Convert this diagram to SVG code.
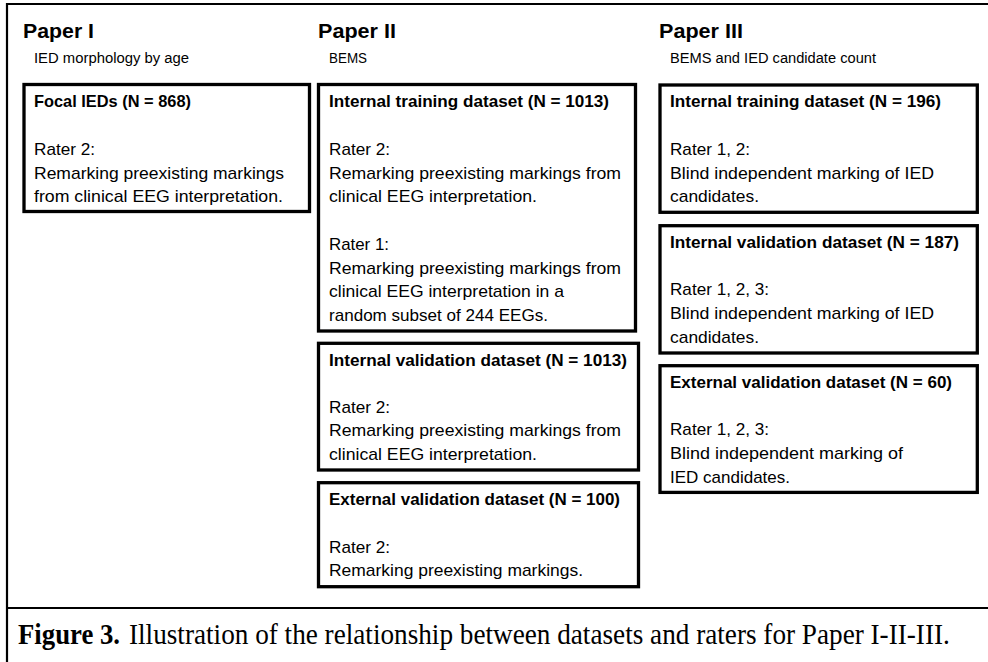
<svg xmlns="http://www.w3.org/2000/svg" width="988" height="662" viewBox="0 0 988 662">
  <style>
    .frame { stroke: #000; stroke-width: 2.2; fill: none; }
    .box { fill: #fff; stroke: #000; stroke-width: 3.3; }
    text { fill: #000; }
    .title { font-family: "Liberation Sans", Arial, sans-serif; font-weight: bold; font-size: 20px; }
    .sub { font-family: "Liberation Sans", Arial, sans-serif; font-size: 14px; }
    .head { font-family: "Liberation Sans", Arial, sans-serif; font-weight: bold; font-size: 16.5px; }
    .body { font-family: "Liberation Sans", Arial, sans-serif; font-size: 17px; }
    .cap { font-family: "Liberation Serif", "Times New Roman", serif; font-size: 29px; }
    .capb { font-family: "Liberation Serif", "Times New Roman", serif; font-size: 29px; font-weight: bold; }
  </style>

  <rect x="0" y="0" width="988" height="662" fill="#fff"/>

  <!-- outer frame and caption separator -->
  <g id="frame">
    <line class="frame" x1="6" y1="4" x2="988" y2="4"/>
    <line class="frame" x1="7" y1="3" x2="7" y2="662"/>
    <line class="frame" x1="7" y1="608" x2="988" y2="608"/>
  </g>

  <!-- column headings -->
  <g id="paper1-heading">
    <text class="title" x="23" y="37.5" textLength="71" lengthAdjust="spacingAndGlyphs">Paper I</text>
    <text class="sub" x="34" y="62.5" textLength="155" lengthAdjust="spacingAndGlyphs">IED morphology by age</text>
  </g>
  <g id="paper2-heading">
    <text class="title" x="318" y="37.5" textLength="78" lengthAdjust="spacingAndGlyphs">Paper II</text>
    <text class="sub" x="329" y="62.5" textLength="38" lengthAdjust="spacingAndGlyphs">BEMS</text>
  </g>
  <g id="paper3-heading">
    <text class="title" x="659" y="37.5" textLength="84" lengthAdjust="spacingAndGlyphs">Paper III</text>
    <text class="sub" x="670" y="62.5" textLength="206" lengthAdjust="spacingAndGlyphs">BEMS and IED candidate count</text>
  </g>

  <!-- Paper I -->
  <g id="p1-focal">
    <rect class="box" x="24" y="84.5" width="285.5" height="127"/>
    <text class="head" x="34" y="107" textLength="157" lengthAdjust="spacingAndGlyphs">Focal IEDs (N = 868)</text>
    <text class="body" x="34" y="154.5" textLength="61" lengthAdjust="spacingAndGlyphs">Rater 2:</text>
    <text class="body" x="34" y="178.5" textLength="250" lengthAdjust="spacingAndGlyphs">Remarking preexisting markings</text>
    <text class="body" x="34" y="202" textLength="249" lengthAdjust="spacingAndGlyphs">from clinical EEG interpretation.</text>
  </g>

  <!-- Paper II -->
  <g id="p2-internal-training">
    <rect class="box" x="318.5" y="84.5" width="317" height="246.5"/>
    <text class="head" x="329" y="107" textLength="280" lengthAdjust="spacingAndGlyphs">Internal training dataset (N = 1013)</text>
    <text class="body" x="329" y="154.5" textLength="61" lengthAdjust="spacingAndGlyphs">Rater 2:</text>
    <text class="body" x="329" y="178.5" textLength="292" lengthAdjust="spacingAndGlyphs">Remarking preexisting markings from</text>
    <text class="body" x="329" y="202" textLength="208" lengthAdjust="spacingAndGlyphs">clinical EEG interpretation.</text>
    <text class="body" x="329" y="250" textLength="60" lengthAdjust="spacingAndGlyphs">Rater 1:</text>
    <text class="body" x="329" y="273.5" textLength="292" lengthAdjust="spacingAndGlyphs">Remarking preexisting markings from</text>
    <text class="body" x="329" y="297" textLength="235" lengthAdjust="spacingAndGlyphs">clinical EEG interpretation in a</text>
    <text class="body" x="329" y="320.5" textLength="219" lengthAdjust="spacingAndGlyphs">random subset of 244 EEGs.</text>
  </g>
  <g id="p2-internal-validation">
    <rect class="box" x="318.5" y="343.3" width="320" height="126.7"/>
    <text class="head" x="329" y="365.5" textLength="298" lengthAdjust="spacingAndGlyphs">Internal validation dataset (N = 1013)</text>
    <text class="body" x="329" y="412.5" textLength="61" lengthAdjust="spacingAndGlyphs">Rater 2:</text>
    <text class="body" x="329" y="436" textLength="292" lengthAdjust="spacingAndGlyphs">Remarking preexisting markings from</text>
    <text class="body" x="329" y="459.5" textLength="208" lengthAdjust="spacingAndGlyphs">clinical EEG interpretation.</text>
  </g>
  <g id="p2-external-validation">
    <rect class="box" x="318.5" y="482.7" width="320" height="104"/>
    <text class="head" x="329" y="504.5" textLength="291" lengthAdjust="spacingAndGlyphs">External validation dataset (N = 100)</text>
    <text class="body" x="329" y="552.5" textLength="61" lengthAdjust="spacingAndGlyphs">Rater 2:</text>
    <text class="body" x="329" y="576" textLength="254" lengthAdjust="spacingAndGlyphs">Remarking preexisting markings.</text>
  </g>

  <!-- Paper III -->
  <g id="p3-internal-training">
    <rect class="box" x="660" y="85" width="317.3" height="127.3"/>
    <text class="head" x="670" y="107" textLength="271" lengthAdjust="spacingAndGlyphs">Internal training dataset (N = 196)</text>
    <text class="body" x="670" y="154.5" textLength="80" lengthAdjust="spacingAndGlyphs">Rater 1, 2:</text>
    <text class="body" x="670" y="178.5" textLength="264" lengthAdjust="spacingAndGlyphs">Blind independent marking of IED</text>
    <text class="body" x="670" y="202" textLength="89" lengthAdjust="spacingAndGlyphs">candidates.</text>
  </g>
  <g id="p3-internal-validation">
    <rect class="box" x="660" y="225.7" width="317.3" height="127.3"/>
    <text class="head" x="670" y="247.5" textLength="289" lengthAdjust="spacingAndGlyphs">Internal validation dataset (N = 187)</text>
    <text class="body" x="670" y="295" textLength="99" lengthAdjust="spacingAndGlyphs">Rater 1, 2, 3:</text>
    <text class="body" x="670" y="319" textLength="264" lengthAdjust="spacingAndGlyphs">Blind independent marking of IED</text>
    <text class="body" x="670" y="342.5" textLength="89" lengthAdjust="spacingAndGlyphs">candidates.</text>
  </g>
  <g id="p3-external-validation">
    <rect class="box" x="660" y="365.7" width="317.3" height="126.7"/>
    <text class="head" x="670" y="387.5" textLength="282" lengthAdjust="spacingAndGlyphs">External validation dataset (N = 60)</text>
    <text class="body" x="670" y="435" textLength="99" lengthAdjust="spacingAndGlyphs">Rater 1, 2, 3:</text>
    <text class="body" x="670" y="459" textLength="233" lengthAdjust="spacingAndGlyphs">Blind independent marking of</text>
    <text class="body" x="670" y="482.5" textLength="120" lengthAdjust="spacingAndGlyphs">IED candidates.</text>
  </g>

  <!-- caption (horizontally condensed serif) -->
  <g id="caption">
    <text class="capb" transform="translate(18 644) scale(0.8 1)" x="0" y="0" textLength="127.5" lengthAdjust="spacingAndGlyphs">Figure 3.</text>
    <text class="cap" transform="translate(129 644) scale(0.8 1)" x="0" y="0" textLength="1026" lengthAdjust="spacingAndGlyphs">Illustration of the relationship between datasets and raters for Paper I-II-III.</text>
  </g>
</svg>
